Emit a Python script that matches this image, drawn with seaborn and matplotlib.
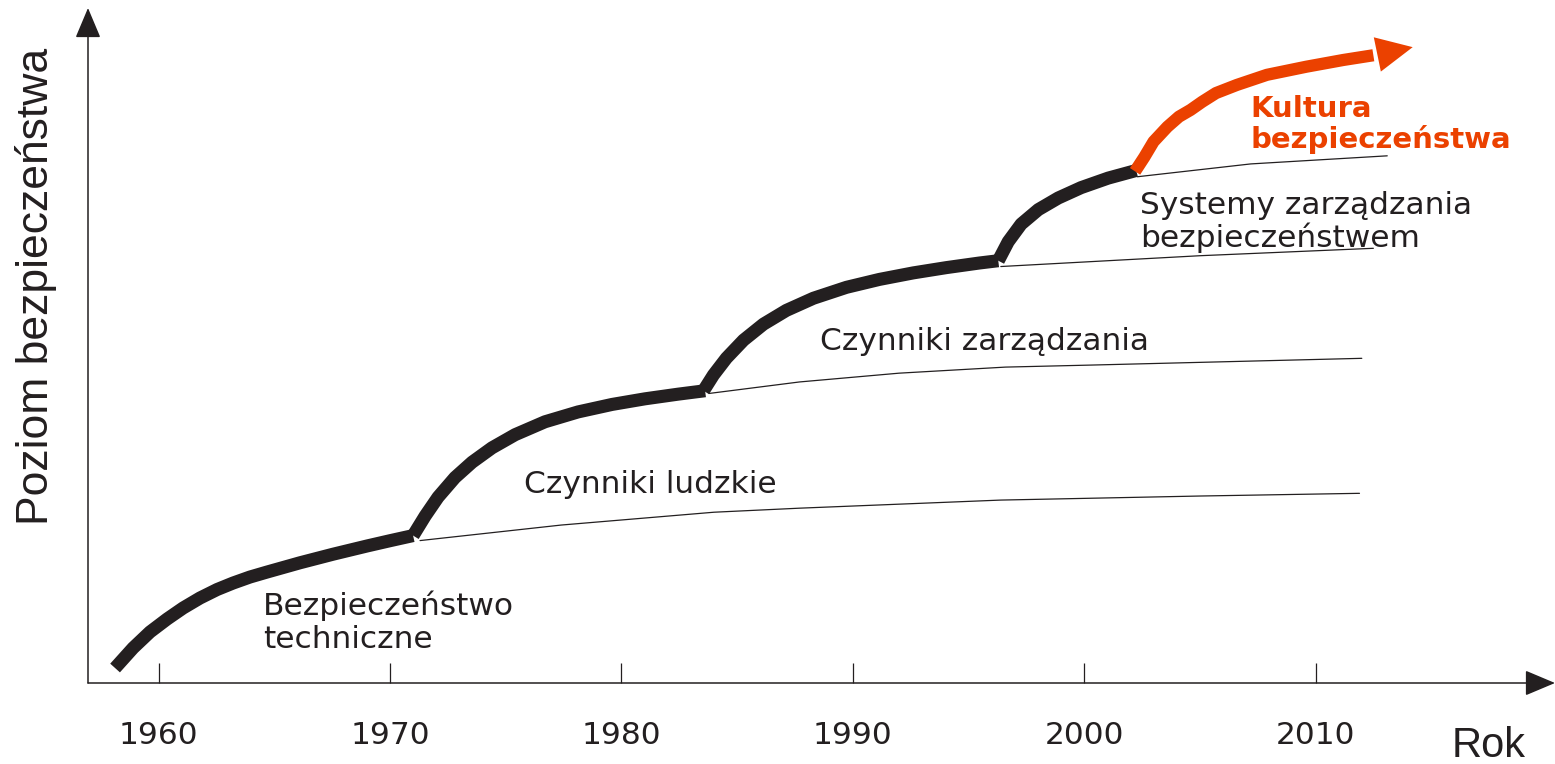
import matplotlib
matplotlib.use("Agg")
import matplotlib.pyplot as plt
import seaborn as sns
import pandas as pd

# curve data (year, safety level 0-100)
seg1_year = [1958.12, 1958.90, 1959.63, 1960.37, 1961.06, 1961.79, 1962.53, 1963.22,
             1963.95, 1964.69, 1966.11, 1967.54, 1969.01, 1970.00, 1971.00]
seg1_level = [2.22, 5.19, 7.56, 9.48, 11.11, 12.59, 13.85, 14.81,
              15.70, 16.44, 17.81, 19.08, 20.30, 21.08, 21.84]
thin1_year = [1971.3, 1977.4, 1984.0, 1987.7, 1996.4, 2005.0, 2011.9]
thin1_level = [21.1, 23.4, 25.3, 25.9, 27.1, 27.7, 28.1]

seg2_year = [1971.00, 1971.52, 1972.08, 1972.81, 1973.55, 1974.41, 1975.41,
             1976.70, 1978.13, 1979.60, 1981.02, 1982.45, 1983.62]
seg2_level = [21.84, 24.74, 27.54, 30.44, 32.71, 34.84, 36.79,
              38.70, 40.16, 41.27, 42.10, 42.79, 43.30]
thin2_year = [1983.8, 1987.7, 1992.0, 1996.6, 2000.3, 2012.0]
thin2_level = [42.9, 44.6, 45.9, 46.8, 47.1, 48.1]

seg3_year = [1983.55, 1983.98, 1984.54, 1985.28, 1986.14, 1987.13, 1988.30,
             1989.73, 1991.15, 1992.62, 1994.05, 1995.47, 1996.29]
seg3_level = [43.30, 45.63, 48.13, 50.79, 53.16, 55.20, 57.00,
              58.62, 59.79, 60.76, 61.54, 62.22, 62.56]
thin3_year = [1996.4, 2000.7, 2005.0, 2012.5]
thin3_level = [61.7, 62.5, 63.3, 64.4]

seg4_year = [1996.29, 1996.72, 1997.28, 1998.02, 1998.88, 1999.87, 2001.04, 2002.25]
seg4_level = [62.56, 65.38, 67.99, 70.13, 71.85, 73.39, 74.80, 75.93]
thin4_year = [2002.3, 2007.2, 2013.1]
thin4_level = [75.0, 76.9, 78.1]

red_year = [2002.2, 2002.6, 2003.0, 2003.6, 2004.1, 2004.6, 2005.1,
            2005.7, 2006.6, 2007.9, 2009.6, 2011.2, 2012.5]
red_level = [75.8, 77.9, 80.2, 82.4, 83.9, 84.9, 86.1,
             87.4, 88.6, 90.1, 91.3, 92.3, 93.0]
red_tip = (2014.2, 94.2)

years = [1960, 1970, 1980, 1990, 2000, 2010]
year_labels = ["1960", "1970", "1980", "1990", "2000", "2010"]

BLACK = "#231f20"
RED = "#eb4100"

sns.set_style("white")
plt.rcParams["font.family"] = ["DejaVu Sans"]

fig = plt.figure(figsize=(15.55, 7.64), dpi=100)
ax = fig.add_axes([88 / 1555, 81 / 764, 1467 / 1555, 675 / 764])

thick = [(seg1_year, seg1_level), (seg2_year, seg2_level),
         (seg3_year, seg3_level), (seg4_year, seg4_level)]
thin = [(thin1_year, thin1_level), (thin2_year, thin2_level),
        (thin3_year, thin3_level), (thin4_year, thin4_level)]

for xs, ys in thin:
    sns.lineplot(x=xs, y=ys, ax=ax, color=BLACK, linewidth=0.9, sort=False)
for xs, ys in thick:
    sns.lineplot(x=xs, y=ys, ax=ax, color=BLACK, linewidth=9.4, sort=False,
                 solid_capstyle="butt", solid_joinstyle="round")

red_df = pd.DataFrame({"year": red_year, "level": red_level})
sns.lineplot(data=red_df, x="year", y="level", ax=ax, color=RED, linewidth=8.8,
             sort=False, solid_capstyle="butt", solid_joinstyle="round")
ax.annotate("", xy=red_tip, xytext=(red_year[-1], red_level[-1]),
            arrowprops=dict(arrowstyle="-|>,head_length=2.6,head_width=1.26",
                            mutation_scale=10, color=RED, lw=0,
                            shrinkA=0, shrinkB=0))

ax.set_xlim(1956.95, 2020.35)
ax.set_ylim(0, 100)
for s in ax.spines.values():
    s.set_visible(False)

# axis arrows
arr = dict(arrowstyle="-|>,head_length=1.9,head_width=0.8", mutation_scale=10,
           color=BLACK, lw=1.1, shrinkA=0, shrinkB=0)
ax.annotate("", xy=(0, 1), xytext=(0, 0), xycoords="axes fraction",
            textcoords="axes fraction", arrowprops=arr, annotation_clip=False)
ax.annotate("", xy=(1, 0), xytext=(0, 0), xycoords="axes fraction",
            textcoords="axes fraction", arrowprops=arr, annotation_clip=False)

ax.set_xticks(years)
ax.set_xticklabels(year_labels, fontsize=22.5, color=BLACK)
ax.tick_params(axis="x", direction="in", length=14.4, width=0.9, color=BLACK,
               pad=27, bottom=True)
ax.set_yticks([])
ax.set_xlabel("")
ax.set_ylabel("")

lab = dict(fontsize=22.5, color=BLACK, ha="left", va="baseline")
ax.text(1964.5, 10.1, "Bezpieczeństwo", **lab)
ax.text(1964.5, 5.2, "techniczne", **lab)
ax.text(1975.8, 28.15, "Czynniki ludzkie", **lab)
ax.text(1988.6, 49.3, "Czynniki zarządzania", **lab)
ax.text(2002.4, 69.5, "Systemy zarządzania", **lab)
ax.text(2002.4, 64.6, "bezpieczeństwem", **lab)
red_lab = dict(fontsize=21, color=RED, ha="left", va="baseline", fontweight="bold")
ax.text(2007.2, 83.85, "Kultura", **red_lab)
ax.text(2007.2, 79.3, "bezpieczeństwa", **red_lab)

ax.text(2015.9, -10.9, "Rok", fontsize=30, color=BLACK, ha="left",
        va="baseline", family=["Liberation Sans", "DejaVu Sans"])
fig.text(36 / 1555, 1 - 286 / 764, "Poziom bezpieczeństwa", rotation=90,
         fontsize=32, color=BLACK, ha="center", va="center",
         family=["Liberation Sans", "DejaVu Sans"])

fig.savefig("out.png", dpi=100)
